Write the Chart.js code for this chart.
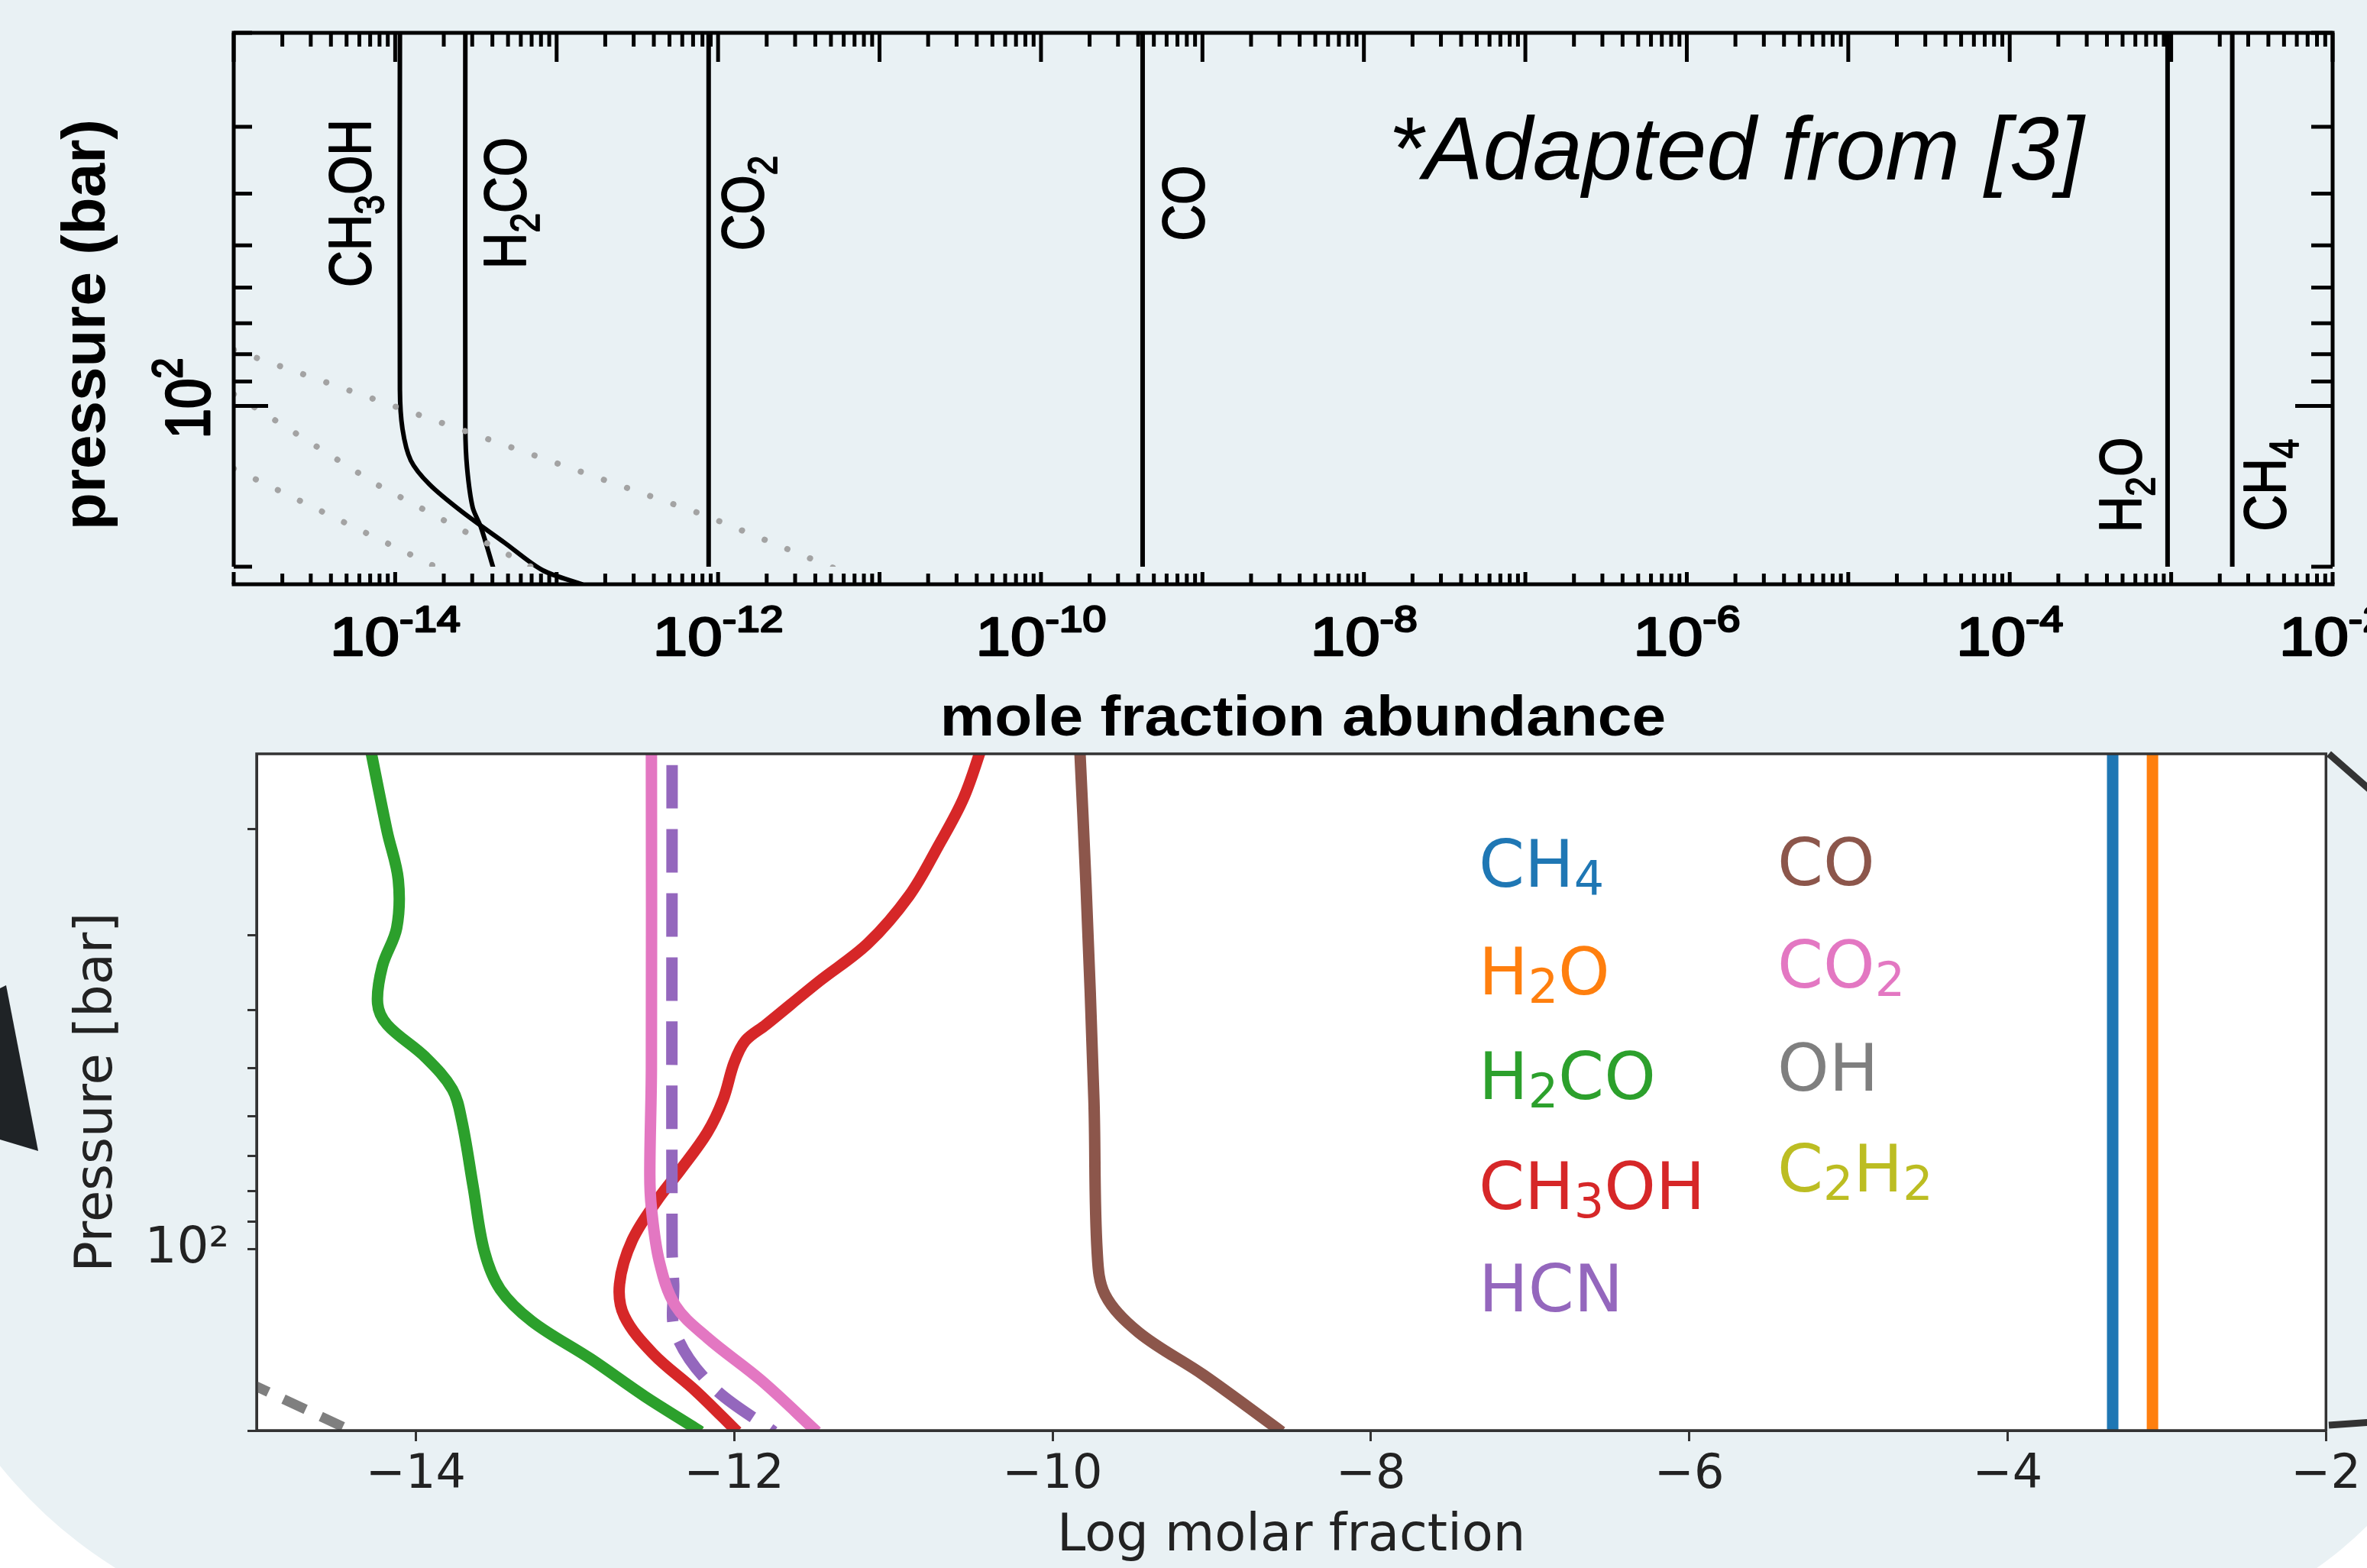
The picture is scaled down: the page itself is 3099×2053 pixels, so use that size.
<!DOCTYPE html>
<html>
<head>
<meta charset="utf-8">
<script src="https://cdn.jsdelivr.net/npm/chart.js@4.4.0/dist/chart.umd.min.js"></script>
<style>
  html, body { margin: 0; padding: 0; width: 3099px; height: 2053px; overflow: hidden; background: #fff; }
  svg, canvas { position: absolute; left: 0; top: 0; }
</style>
</head>
<body>
<svg width="3099" height="2053">
  <path d="M -131 -10 H 3247 V 1643 A 500 500 0 0 1 2747 2143 H 469 A 600 600 0 0 1 -131 1586 Z" fill="#e9f1f4"/>
  <polygon points="-4,1296 8,1290 50,1507 0,1492" fill="#1f2326"/>
  <line x1="3049" y1="987" x2="3105" y2="1036" stroke="#333" stroke-width="9"/>
  <line x1="3049" y1="1866" x2="3105" y2="1862" stroke="#333" stroke-width="9"/>
</svg>
<canvas id="topChart" width="3099" height="2053"></canvas>
<canvas id="bottomChart" width="3099" height="2053"></canvas>
<script>
// ---- top panel: mole fraction (log) vs pressure (bar) ----
var topVertP = [20, 203];
var ch3ohTopX = [1.07e-14, 1.07e-14, 1.11e-14, 1.25e-14, 1.63e-14, 2.58e-14, 4.78e-14, 8.17e-14, 1.45e-13];
var ch3ohTopP = [20, 93.3, 110.4, 126.5, 140.2, 157.6, 180.5, 203, 216];
var h2coTopX = [2.72e-14, 2.72e-14, 2.79e-14, 3.02e-14, 3.40e-14, 4.09e-14];
var h2coTopP = [20, 110, 130.7, 154.9, 168.8, 203];
var co2TopX = [8.74e-13, 8.74e-13];
var coTopX = [4.26e-10, 4.26e-10];
var h2oTopX = [9.5e-4, 9.5e-4];
var ch4TopX = [2.39e-3, 2.39e-3];
// grey dotted profiles
var dotAX = [1.0e-15, 8.2e-13, 5.6e-12];
var dotAP = [78.5, 160, 203];
var dotBX = [1.0e-15, 7.6e-15, 7.6e-14];
var dotBP = [95, 140, 203];
var dotCX = [1.0e-15, 1.84e-14];
var dotCP = [131, 201];

var topYTicks = [20, 30, 40, 50, 60, 70, 80, 90, 100, 200];
var topXLabelExps = [-14, -12, -10, -8, -6, -4, -2];
var topLabels = ['CH_3OH', 'H_2CO', 'CO_2', 'CO', 'H_2O', 'CH_4'];
var topLabelLines = [ch3ohTopX[0], h2coTopX[0], co2TopX[0], coTopX[0], h2oTopX[0], ch4TopX[0]];

// ---- bottom panel: log molar fraction vs pressure ----
var species = ['CH_4', 'H_2O', 'H_2CO', 'CH_3OH', 'HCN', 'CO', 'CO_2', 'OH', 'C_2H_2'];
var colors = ['#1f77b4', '#ff7f0e', '#2ca02c', '#d62728', '#9467bd', '#8c564b', '#e377c2', '#7f7f7f', '#bcbd22'];
var ch4X = [-3.34, -3.34];
var ch4P = [14, 210];
var h2oX = [-3.09, -3.09];
var h2oP = [14, 210];
var h2coX = [-14.29, -14.18, -14.11, -14.12, -14.21, -14.24, -14.18, -13.94, -13.77, -13.71, -13.64, -13.57, -13.47, -13.27, -12.90, -12.56, -12.26, -12.21];
var h2coP = [14.5, 20.2, 24.3, 29.2, 33.8, 39.0, 42.3, 47.9, 54.2, 61.3, 78.6, 100.6, 116.5, 131.7, 152.1, 175.6, 197, 201];
var ch3ohX = [-10.44, -10.56, -10.72, -10.90, -11.16, -11.47, -11.80, -11.93, -12.00, -12.07, -12.17, -12.34, -12.47, -12.64, -12.72, -12.69, -12.51, -12.24, -11.98];
var ch3ohP = [14.5, 17.8, 21.4, 25.8, 31.0, 35.9, 42.3, 45.0, 48.9, 56.4, 64.0, 73.9, 81.9, 96.5, 114.1, 129.1, 149, 172, 201];
var hcnX = [-12.39, -12.39, -12.38, -12.37, -12.14, -11.75];
var hcnP = [14.8, 100, 114, 137.3, 168.6, 201];
var coX = [-9.83, -9.79, -9.74, -9.72, -9.67, -9.46, -9.05, -8.56];
var coP = [14.5, 24.7, 56.4, 100.6, 118.9, 137.3, 161.8, 201];
var co2X = [-12.52, -12.52, -12.53, -12.52, -12.47, -12.37, -12.17, -11.83, -11.48];
var co2P = [14.5, 50, 75, 85.3, 104.8, 123.9, 140.1, 165.1, 201];
var ohX = [-15.3, -14.98, -14.39];
var ohP = [155, 170, 201];
var c2h2X = [];
var c2h2P = [];
var bottomXTicks = [-14, -12, -10, -8, -6, -4, -2];
var bottomYTicks = [20, 30, 40, 50, 60, 70, 80, 90, 100, 200];

function pts(xs, ps) {
  return xs.map(function (v, i) { return { x: v, y: ps[i] }; });
}

// text with _sub / ^sup parts
function parseRich(s) {
  var out = [], buf = '', i = 0;
  while (i < s.length) {
    var c = s[i];
    if (c === '_' || c === '^') {
      if (buf) { out.push({ t: buf, k: 0 }); buf = ''; }
      var t;
      if (s[i + 1] === '{') { var j = s.indexOf('}', i); t = s.slice(i + 2, j); i = j + 1; }
      else { t = s[i + 1]; i += 2; }
      out.push({ t: t, k: c === '_' ? -1 : 1 });
    } else { buf += c; i++; }
  }
  if (buf) out.push({ t: buf, k: 0 });
  return out;
}

function drawRich(ctx, s, x, y, o) {
  var segs = parseRich(s);
  var font = function (k) {
    var sz = k ? Math.round(o.size * o.small) : o.size;
    return (o.style || 'normal') + ' ' + (o.weight || 'normal') + ' ' + sz + 'px ' + o.family;
  };
  ctx.save();
  ctx.translate(x, y);
  if (o.scaleX) ctx.scale(o.scaleX, 1);
  if (o.rot) ctx.rotate(-Math.PI / 2);
  var w = 0;
  segs.forEach(function (sg) { ctx.font = font(sg.k); sg.w = ctx.measureText(sg.t).width; w += sg.w; });
  var cx = o.align === 'center' ? -w / 2 : (o.align === 'right' ? -w : 0);
  ctx.fillStyle = o.color;
  ctx.strokeStyle = o.color;
  ctx.lineJoin = 'round';
  ctx.textAlign = 'left';
  ctx.textBaseline = 'alphabetic';
  segs.forEach(function (sg) {
    ctx.font = font(sg.k);
    var dy = sg.k < 0 ? o.size * o.subDy : (sg.k > 0 ? -o.size * o.supDy : 0);
    ctx.fillText(sg.t, cx, dy);
    if (o.stroke) { ctx.lineWidth = o.stroke; ctx.strokeText(sg.t, cx, dy); }
    cx += sg.w;
  });
  ctx.restore();
}

var topTickFont = { family: '"Liberation Sans", Arial, sans-serif', size: 71, small: 0.68, supDy: 0.44, subDy: 0.2, color: '#000', scaleX: 1.15, stroke: 2.5 };
var topMolFont = { family: '"Liberation Sans", Arial, sans-serif', size: 66, small: 0.7, supDy: 0.44, subDy: 0.23, color: '#000', scaleX: 1.17, rot: true, align: 'center', stroke: 1.5 };
// baseline offset of each rotated label from its line, and centre pressure
var topLabelLayout = [[-39, 41.7], [79, 41.7], [71, 41.7], [80, 41.7], [-35, 140.6], [69, 140.6]];

var topPanel = {
  id: 'topPanel',
  afterDraw: function (chart) {
    var ctx = chart.ctx, a = chart.chartArea, xs = chart.scales.x, ys = chart.scales.y;
    var axY = a.bottom + 23;
    ctx.save();
    ctx.strokeStyle = '#000';
    ctx.lineWidth = 5;
    ctx.beginPath();
    ctx.moveTo(a.left, a.bottom); ctx.lineTo(a.left, a.top); ctx.lineTo(a.right, a.top); ctx.lineTo(a.right, a.bottom);
    ctx.moveTo(a.left - 2.5, axY); ctx.lineTo(a.right + 2.5, axY);
    ctx.stroke();
    ctx.lineWidth = 5;
    ctx.beginPath();
    for (var e = -15; e <= -2; e++) {
      for (var m = 1; m <= 9; m++) {
        if (e === -2 && m > 1) break;
        var px = xs.getPixelForValue(m * Math.pow(10, e));
        var major = m === 1;
        ctx.moveTo(px, a.top); ctx.lineTo(px, a.top + (major ? 38 : 18));
        ctx.moveTo(px, axY); ctx.lineTo(px, axY - (major ? 16 : 14));
      }
    }
    topYTicks.forEach(function (v) {
      var py = ys.getPixelForValue(v), mj = v === 100;
      ctx.moveTo(a.left, py); ctx.lineTo(a.left + (mj ? 45 : 24), py);
      ctx.moveTo(a.right, py); ctx.lineTo(a.right - (mj ? 49 : 28), py);
    });
    ctx.stroke();

    topXLabelExps.forEach(function (ex) {
      drawRich(ctx, '10^{' + ex + '}', xs.getPixelForValue(Math.pow(10, ex)), 858,
        Object.assign({}, topTickFont, { align: 'center' }));
    });
    drawRich(ctx, '10^2', 274, ys.getPixelForValue(100) - 10,
      Object.assign({}, topTickFont, { align: 'center', rot: true }));

    drawRich(ctx, 'mole fraction abundance', 1706, 963,
      { family: '"Liberation Sans", Arial, sans-serif', weight: 'bold', size: 74, color: '#000', align: 'center', scaleX: 1.085 });
    drawRich(ctx, 'pressure (bar)', 137, 425,
      { family: '"Liberation Sans", Arial, sans-serif', weight: 'bold', size: 80, color: '#000', align: 'center', rot: true });

    topLabels.forEach(function (lab, i) {
      var lx = xs.getPixelForValue(topLabelLines[i]) + topLabelLayout[i][0];
      drawRich(ctx, lab, lx, ys.getPixelForValue(topLabelLayout[i][1]), topMolFont);
    });

    drawRich(ctx, '*Adapted from [3]', 1818, 235,
      { family: '"Liberation Sans", Arial, sans-serif', style: 'italic', size: 117, color: '#000' });
    ctx.restore();
  }
};

function blackLine(xs, ps, extra) {
  return Object.assign({ data: pts(xs, ps), borderColor: '#000', borderWidth: 6, pointRadius: 0, tension: 0.3, fill: false }, extra || {});
}
function dotLine(xs, ps) {
  return { data: pts(xs, ps), borderColor: '#a3a3a3', borderWidth: 8, borderDash: [0.1, 32], borderCapStyle: 'round', pointRadius: 0, tension: 0, fill: false };
}

new Chart(document.getElementById('topChart'), {
  type: 'line',
  data: {
    datasets: [
      dotLine(dotAX, dotAP),
      dotLine(dotBX, dotBP),
      dotLine(dotCX, dotCP),
      blackLine(ch3ohTopX, ch3ohTopP, { clip: { left: 0, top: 0, right: 0, bottom: 23 } }),
      blackLine(h2coTopX, h2coTopP),
      blackLine(co2TopX, topVertP),
      blackLine(coTopX, topVertP),
      blackLine(h2oTopX, topVertP),
      blackLine(ch4TopX, topVertP)
    ]
  },
  options: {
    responsive: false,
    animation: false,
    events: [],
    layout: { padding: { left: 306, right: 45, top: 43, bottom: 1311 } },
    plugins: { legend: { display: false }, tooltip: { enabled: false } },
    scales: {
      x: { type: 'logarithmic', min: 1e-15, max: 1e-2, display: false },
      y: { type: 'logarithmic', reverse: true, min: 20, max: 200, display: false }
    }
  },
  plugins: [topPanel]
});

// ---- bottom chart ----
var bottomSeries = [
  [ch4X, ch4P], [h2oX, h2oP], [h2coX, h2coP], [ch3ohX, ch3ohP], [hcnX, hcnP],
  [coX, coP], [co2X, co2P], [ohX, ohP], [c2h2X, c2h2P]
];
var legendCols = [[1936, [1161, 1302, 1439, 1583, 1717]], [2327, [1159, 1293, 1428, 1560]]];
var legendFont = { family: '"DejaVu Sans", sans-serif', size: 86, small: 0.72, subDy: 0.13, supDy: 0.4 };

var bottomPanel = {
  id: 'bottomPanel',
  beforeDraw: function (chart) {
    var ctx = chart.ctx, a = chart.chartArea;
    ctx.save();
    ctx.fillStyle = '#fff';
    ctx.fillRect(a.left, a.top, a.right - a.left, a.bottom - a.top);
    ctx.restore();
  },
  afterDraw: function (chart) {
    var ctx = chart.ctx, a = chart.chartArea;
    ctx.save();
    ctx.strokeStyle = '#333';
    ctx.lineWidth = 3.5;
    ctx.strokeRect(a.left, a.top, a.right - a.left, a.bottom - a.top);
    var k = 0;
    legendCols.forEach(function (col) {
      col[1].forEach(function (by) {
        if (k < species.length) {
          drawRich(ctx, species[k], col[0], by, Object.assign({}, legendFont, { color: colors[k] }));
        }
        k++;
      });
    });
    ctx.restore();
  }
};

var bottomDatasets = bottomSeries.map(function (s, i) {
  var ds = {
    label: species[i],
    data: pts(s[0], s[1]),
    borderColor: colors[i],
    borderWidth: 15,
    pointRadius: 0,
    tension: 0.35,
    fill: false,
    borderJoinStyle: 'round',
    order: -i
  };
  if (species[i] === 'HCN') { ds.borderDash = [57, 27]; ds.borderDashOffset = 65; }
  if (species[i] === 'OH') { ds.borderDash = [32, 22]; ds.borderWidth = 13; }
  return ds;
});

var tickFont = { family: '"DejaVu Sans", sans-serif', size: 62 };
var titleFont = { family: '"DejaVu Sans", sans-serif', size: 67 };

new Chart(document.getElementById('bottomChart'), {
  type: 'line',
  data: { datasets: bottomDatasets },
  options: {
    responsive: false,
    animation: false,
    events: [],
    layout: { padding: { left: 88, right: 50, top: 987, bottom: 0 } },
    plugins: { legend: { display: false }, tooltip: { enabled: false } },
    scales: {
      x: {
        type: 'linear', min: -15, max: -2,
        afterBuildTicks: function (sc) { sc.ticks = bottomXTicks.map(function (v) { return { value: v }; }); },
        afterFit: function (sc) { sc.height = 180; },
        grid: { drawOnChartArea: false, tickLength: 14, tickWidth: 3, tickColor: '#333' },
        border: { color: '#333', width: 3 },
        ticks: {
          autoSkip: false, maxRotation: 0, padding: 8, color: '#222', font: tickFont,
          callback: function (v) { return v < 0 ? '\u2212' + Math.abs(v) : String(v); }
        },
        title: { display: true, text: 'Log molar fraction', color: '#222', font: titleFont, padding: { top: 0, bottom: 0 } }
      },
      y: {
        type: 'logarithmic', reverse: true, min: 15, max: 200,
        afterBuildTicks: function (sc) { sc.ticks = bottomYTicks.map(function (v) { return { value: v }; }); },
        afterFit: function (sc) { sc.width = 248; },
        grid: { drawOnChartArea: false, tickLength: 12, tickWidth: 3, tickColor: '#333' },
        border: { color: '#333', width: 3 },
        ticks: {
          autoSkip: false, padding: 24, color: '#222', font: { family: '"DejaVu Sans", sans-serif', size: 66 },
          callback: function (v) { return v === 100 ? '10\u00b2' : ''; }
        },
        title: { display: true, text: 'Pressure [bar]', color: '#222', font: titleFont, padding: { top: 0, bottom: 0 } }
      }
    }
  },
  plugins: [bottomPanel]
});
</script>
</body>
</html>
